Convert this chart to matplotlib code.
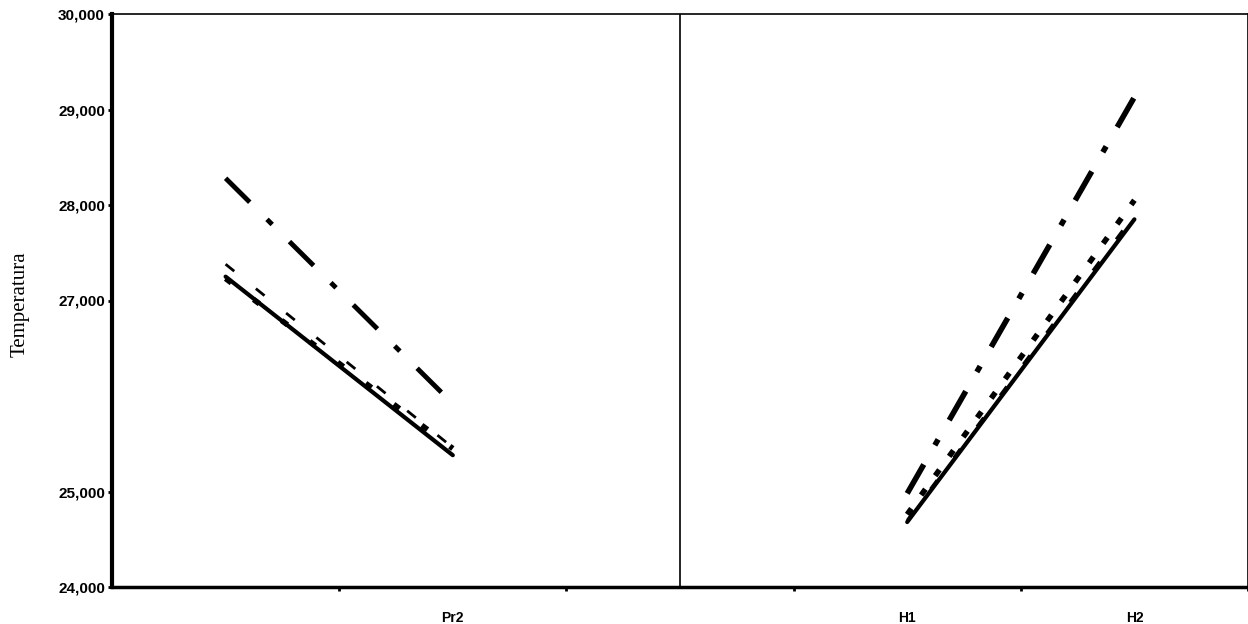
import matplotlib
matplotlib.use("Agg")
import matplotlib.pyplot as plt
from matplotlib.ticker import FuncFormatter

# categories along the x axis (only some are labelled in the original)
categories = ["", "Pr2", "", "H1", "H2"]

# left panel: Pr1 -> Pr2, right panel: H1 -> H2
left_x = [0, 1]
right_x = [3, 4]

solid_left = [27250, 25380]
dotted_left = [27230, 25450]
dashed_left = [27380, 25460]
dashdot_left = [28280, 25920]

solid_right = [24680, 27850]
dotted_right = [24760, 28050]
dashed_right = [24700, 27900]
dashdot_right = [24980, 29130]

y_ticks = [24000, 25000, 27000, 28000, 29000, 30000]

fig = plt.figure(figsize=(12.48, 6.24), dpi=100)
ax = fig.add_axes([112 / 1248, 1 - 587 / 624, 1136 / 1248, 573 / 624])

# solid
ax.plot(left_x, solid_left, color="black", lw=3, solid_capstyle="round")
ax.plot(right_x, solid_right, color="black", lw=3, solid_capstyle="round")
# dotted (square dots)
ax.plot(left_x, dotted_left, color="black", lw=4, linestyle=(0, (1.3, 5)))
ax.plot(right_x, dotted_right, color="black", lw=4, linestyle=(0, (1.3, 3)))
# thin dashed
ax.plot(left_x, dashed_left, color="black", lw=2, linestyle=(0, (4, 10)))
ax.plot(right_x, dashed_right, color="black", lw=2, linestyle=(0, (4, 10)))
# dash-dot
ax.plot(left_x, dashdot_left, color="black", lw=3.5, linestyle=(0, (7, 5, 1.5, 5)))
ax.plot(right_x, dashdot_right, color="black", lw=4, linestyle=(0, (6, 4, 1.2, 4)))

# divider between the two panels
ax.axvline(2, color="black", lw=1.2)

ax.set_xlim(-0.5, 4.5)
ax.set_ylim(24000, 30000)

ax.set_yticks(y_ticks)
ax.yaxis.set_major_formatter(FuncFormatter(lambda v, p: "{:,.0f}".format(v)))
ax.tick_params(axis="y", direction="out", length=3, width=2, pad=2)
for lab in ax.get_yticklabels():
    lab.set_fontfamily("Liberation Sans")
    lab.set_fontweight("bold")
    lab.set_fontsize(11)

# boundary ticks and centred labels
ax.set_xticks([0.5, 1.5, 2.5, 3.5, 4.5])
ax.set_xticklabels([])
ax.tick_params(axis="x", which="major", direction="out", length=3, width=2)
ax.set_xticks(range(len(categories)), minor=True)
ax.set_xticklabels(categories, minor=True, fontfamily="Liberation Sans",
                   fontweight="bold", fontsize=10)
ax.tick_params(axis="x", which="minor", length=0, pad=17)

ax.spines["left"].set_linewidth(3)
ax.spines["bottom"].set_linewidth(2.5)
ax.spines["top"].set_linewidth(1.2)
ax.spines["right"].set_linewidth(1.2)

fig.text(20 / 1248, 1 - 304 / 624, "Temperatura", rotation=90,
         fontfamily="Liberation Serif", fontsize=15, ha="center", va="center")

fig.savefig("out.png", dpi=100)
